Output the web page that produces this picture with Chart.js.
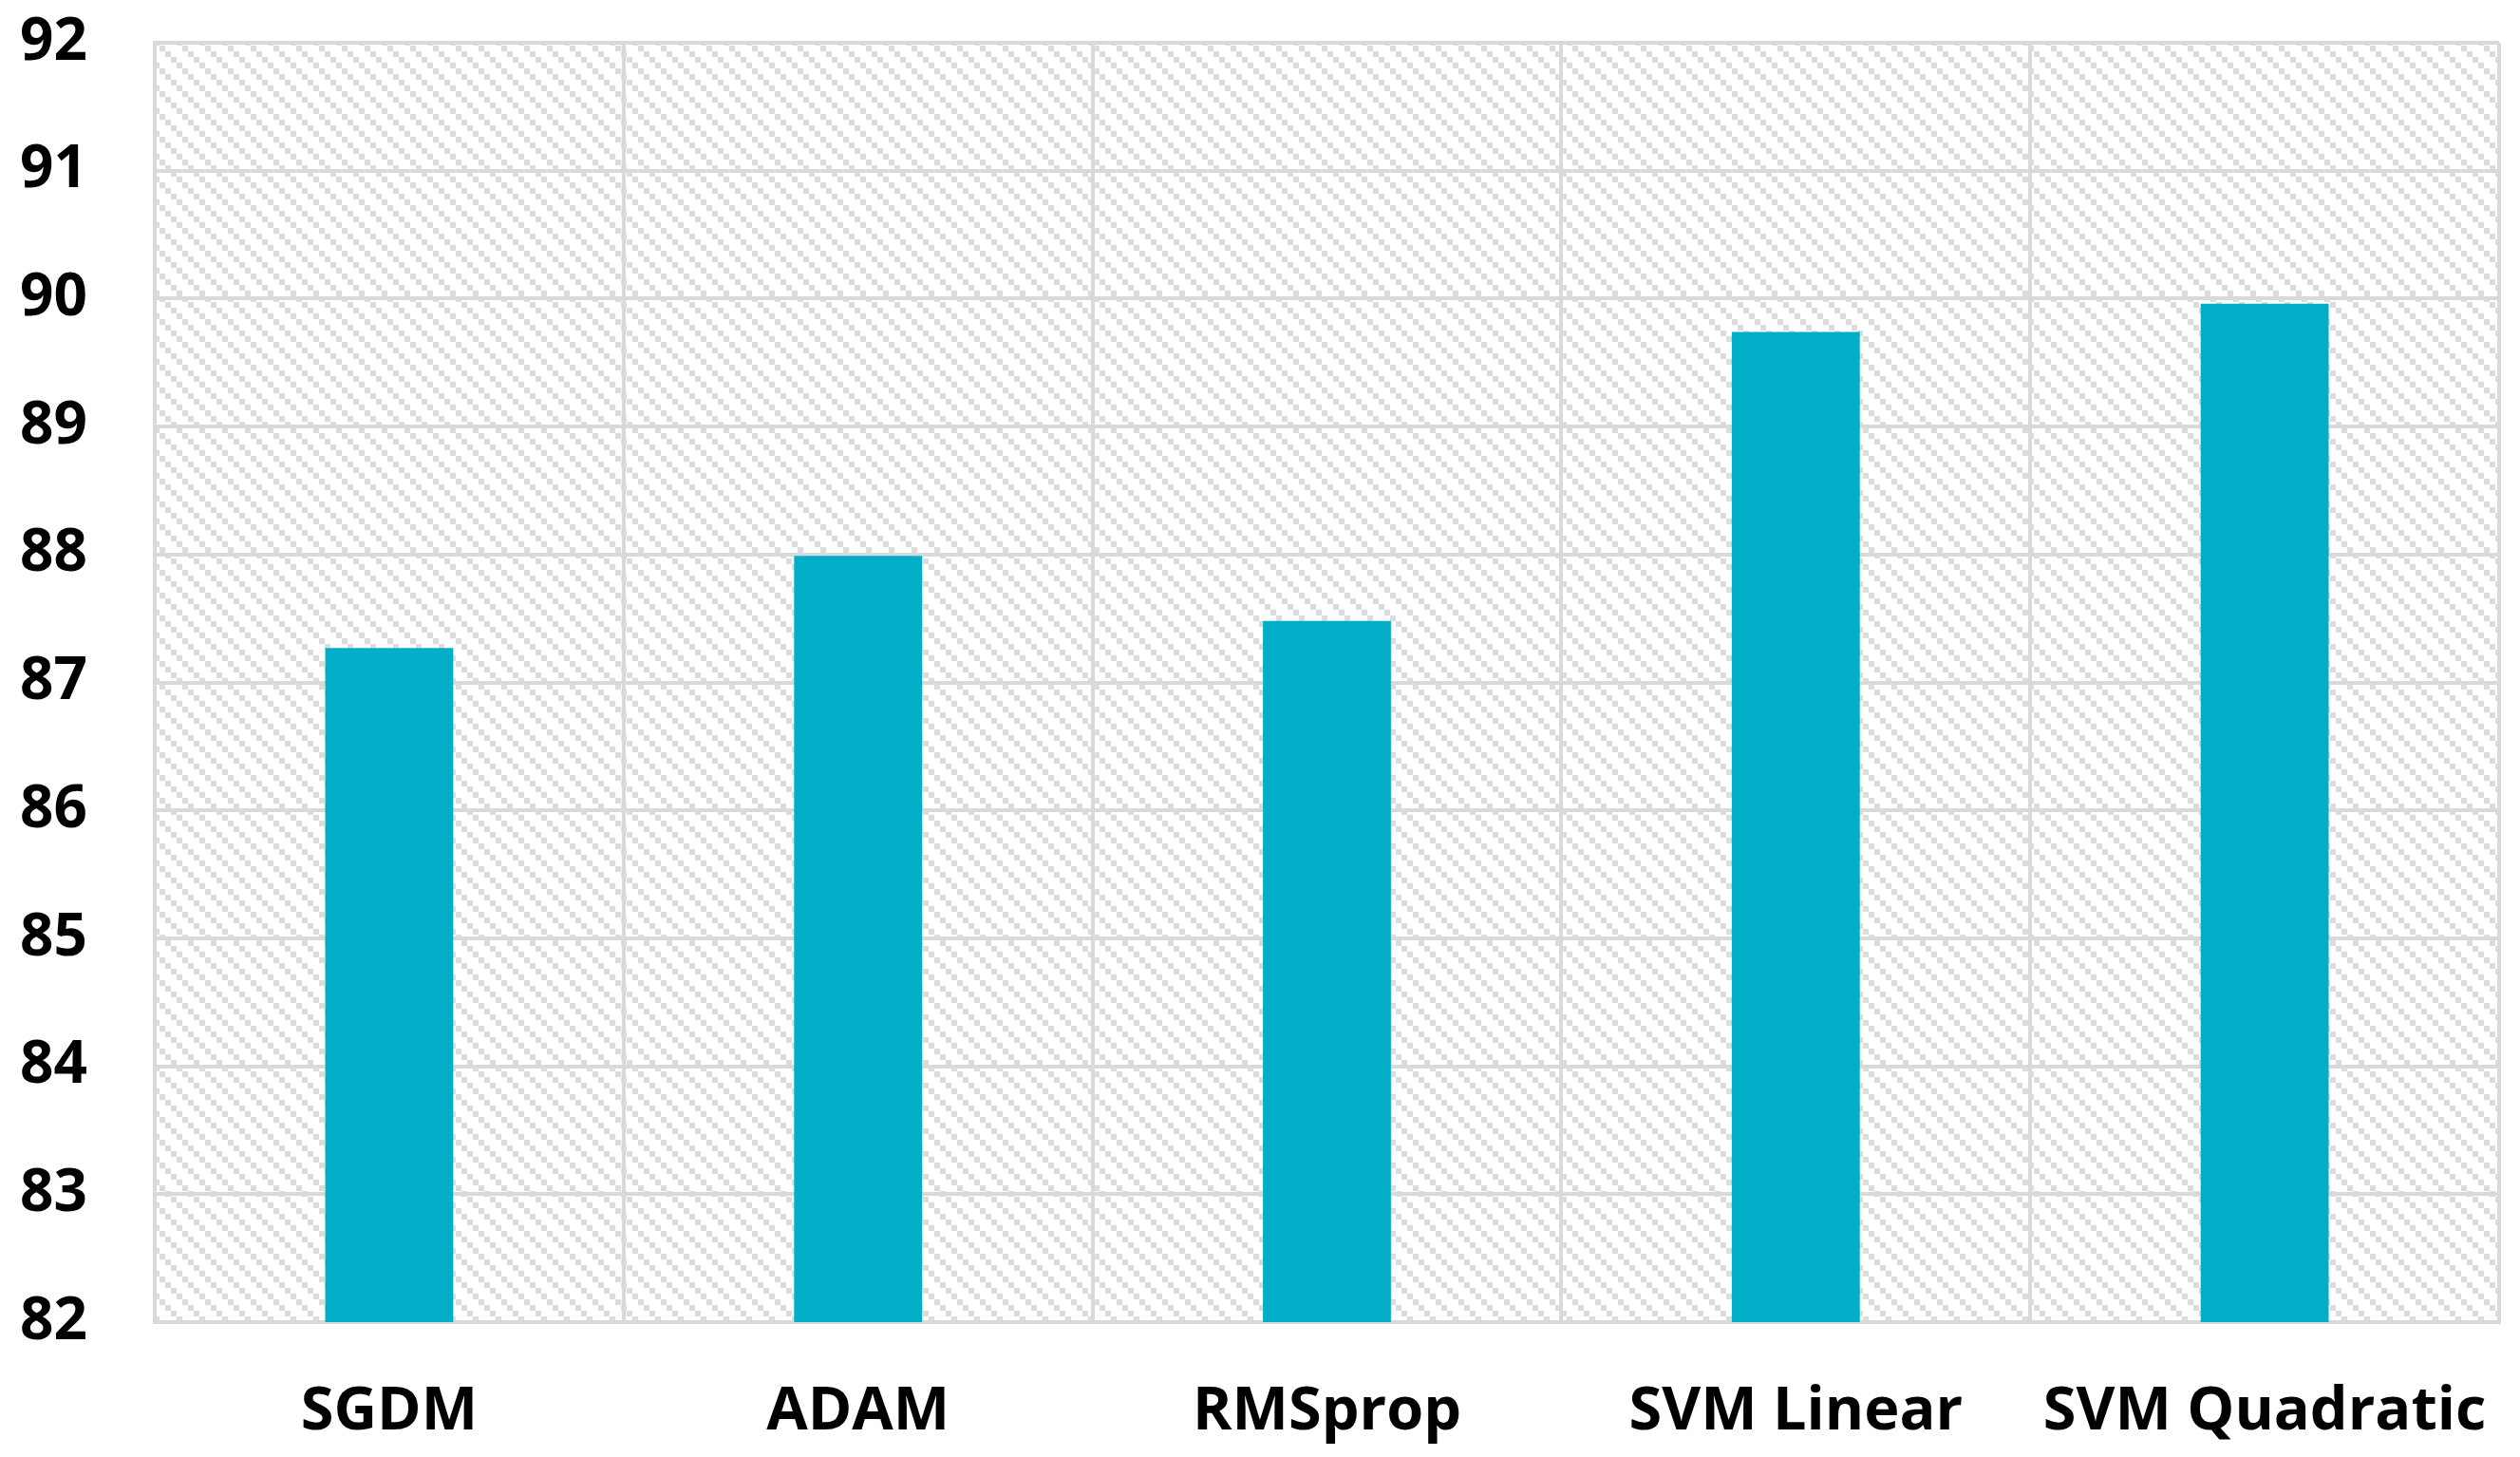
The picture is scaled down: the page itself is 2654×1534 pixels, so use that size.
<!DOCTYPE html>
<html>
<head>
<meta charset="utf-8">
<script src="https://cdn.jsdelivr.net/npm/chart.js@4"></script>
<style>
html,body{margin:0;padding:0;background:#fff;overflow:hidden;}
#wrap{width:2654px;height:1534px;}
</style>
</head>
<body>
<div id="wrap"><canvas id="c" width="2654" height="1534"></canvas></div>
<script>
const categories = ["SGDM", "ADAM", "RMSprop", "SVM Linear", "SVM Quadratic"];
const accuracy = [87.27, 87.99, 87.48, 89.74, 89.96];
const yMin = 82, yMax = 92, yStep = 1;

function makeHatch() {
  const t = document.createElement('canvas');
  t.width = 24; t.height = 24;
  const g = t.getContext('2d');
  g.fillStyle = '#ffffff';
  g.fillRect(0, 0, 24, 24);
  g.fillStyle = '#dcdcdc';
  for (let k = 0; k < 4; k++) g.fillRect(6 * k, 6 * k, 6, 6);
  return g.createPattern(t, 'repeat');
}

const hatchPlugin = {
  id: 'hatch',
  beforeDraw(chart) {
    const {ctx, chartArea: a} = chart;
    ctx.save();
    ctx.fillStyle = makeHatch();
    ctx.fillRect(a.left, a.top, a.right - a.left, a.bottom - a.top);
    ctx.restore();
  }
};

const fontFamily = '"Open Sans", "Noto Sans", sans-serif';

new Chart(document.getElementById('c'), {
  type: 'bar',
  data: {
    labels: categories,
    datasets: [{
      data: accuracy,
      backgroundColor: '#02AEC7',
      borderWidth: 0,
      categoryPercentage: 1,
      barPercentage: 0.273
    }]
  },
  options: {
    responsive: false,
    animation: false,
    devicePixelRatio: 1,
    layout: {padding: {left: 20, right: 22, top: 45, bottom: 0}},
    plugins: {legend: {display: false}, tooltip: {enabled: false}},
    scales: {
      x: {
        grid: {color: '#d9d9d9', lineWidth: 4, drawTicks: false, offset: true},
        border: {display: true, color: '#d9d9d9', width: 4},
        ticks: {color: '#000', padding: 57, font: {family: fontFamily, size: 63, weight: 'bold'}},
        afterFit(s) { s.height = 142; s.paddingLeft = 0; s.paddingRight = 0; }
      },
      y: {
        min: yMin, max: yMax,
        grid: {color: '#d9d9d9', lineWidth: 4, drawTicks: false},
        border: {display: true, color: '#d9d9d9', width: 4},
        ticks: {stepSize: yStep, color: '#000', padding: 71, font: {family: fontFamily, size: 62, weight: 'bold'}},
        afterFit(s) { s.width = 143; s.paddingTop = 0; s.paddingBottom = 0; }
      }
    }
  },
  plugins: [hatchPlugin]
});
</script>
</body>
</html>
